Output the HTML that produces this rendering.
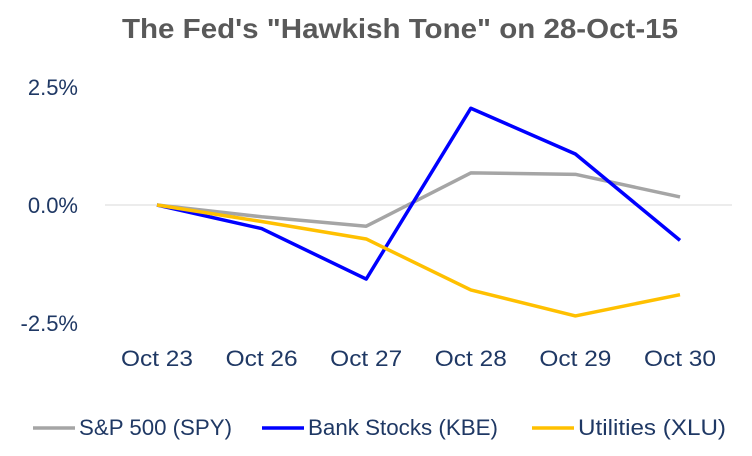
<!DOCTYPE html>
<html><head><meta charset="utf-8"><style>
body{margin:0;background:#fff}
svg text{font-family:"Liberation Sans",sans-serif}
</style></head><body>
<svg id="chart" width="752" height="451" viewBox="0 0 752 451" xmlns="http://www.w3.org/2000/svg">
<text x="122" y="38" textLength="556" lengthAdjust="spacingAndGlyphs" font-size="28" font-weight="bold" fill="#595959">The Fed's "Hawkish Tone" on 28-Oct-15</text>
<g id="grid"></g><g id="yaxis"></g><g id="xaxis"></g><g id="series"></g><g id="legend"></g>
</svg>
<script>
const categories=["Oct 23","Oct 26","Oct 27","Oct 28","Oct 29","Oct 30"];
const spy=[0,-0.25,-0.45,0.68,0.65,0.17];
const kbe=[0,-0.5,-1.57,2.05,1.08,-0.75];
const xlu=[0,-0.35,-0.72,-1.8,-2.35,-1.9];
const yTicks=[2.5,0,-2.5];
const yTickLabels=["2.5%","0.0%","-2.5%"];
const seriesNames=["S&P 500 (SPY)","Bank Stocks (KBE)","Utilities (XLU)"];
const colors=["#a5a5a5","#0000ff","#ffc000"];
const NS="http://www.w3.org/2000/svg";
const navy="#1f3864";
function x(i){return 157+i*104.6;}
function y(v){return 205-v*47.2;}
function mk(tag,attrs,parent){const e=document.createElementNS(NS,tag);for(const k in attrs)e.setAttribute(k,attrs[k]);document.getElementById(parent).appendChild(e);return e;}
const zl=mk("line",{x1:105,x2:732,y1:y(0),y2:y(0),stroke:"#d9d9d9","stroke-width":1},"grid");


yTicks.forEach((t,i)=>{const e=mk("text",{x:78,y:y(t)+8,"text-anchor":"end","font-size":22,fill:navy},"yaxis");e.textContent=yTickLabels[i];

});
categories.forEach((c,i)=>{const e=mk("text",{x:x(i)-36,y:366,textLength:72,lengthAdjust:"spacingAndGlyphs","font-size":22,fill:navy},"xaxis");e.textContent=c;

});
[spy,kbe,xlu].forEach((s,k)=>{const p=mk("polyline",{points:s.map((v,i)=>x(i)+","+y(v)).join(" "),fill:"none",stroke:colors[k],"stroke-width":3.5,"stroke-linejoin":"round"},"series");

});
const lx=[33,262,532];
const tw=[153,190,148];
seriesNames.forEach((n,k)=>{const l=mk("line",{x1:lx[k],x2:lx[k]+42,y1:428,y2:428,stroke:colors[k],"stroke-width":3.5},"legend");


const t=mk("text",{x:lx[k]+46,y:435,textLength:tw[k],lengthAdjust:"spacingAndGlyphs","font-size":22,fill:navy},"legend");t.textContent=n;

});
</script>
</body></html>
